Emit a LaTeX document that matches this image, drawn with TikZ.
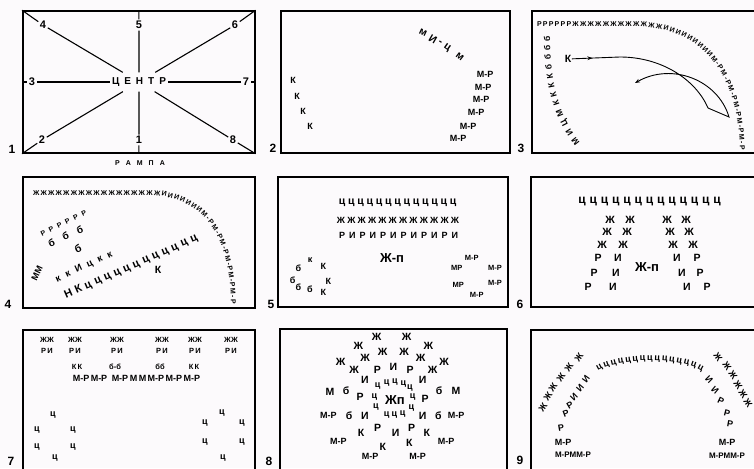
\documentclass[tikz,border=0pt]{standalone}
\usepackage{fontspec}
\setmainfont{Liberation Sans}
\usetikzlibrary{arrows.meta,positioning,decorations.text,decorations.markings}
\definecolor{paper}{RGB}{252,250,252}

\begin{document}
\begin{tikzpicture}[x=1pt, y=-1pt,
    stage/.style={draw, line width=1.5pt, inner sep=0pt},
    num/.style={font=\bfseries\fontsize{12}{12}\selectfont, inner sep=1.5pt},
    wee/.style={font=\bfseries\fontsize{7.5}{7.5}\selectfont, inner sep=0.5pt},
    role/.style={font=\bfseries\fontsize{9}{9}\selectfont, inner sep=0.5pt},
    cast/.style={font=\bfseries\fontsize{10.5}{10.5}\selectfont, inner sep=0.5pt},
    lead/.style={font=\bfseries\fontsize{13}{13}\selectfont, inner sep=1pt},
    track/.style 2 args={decorate, decoration={text along path, text align={fit to path},
        text={|\bfseries\fontsize{#1}{#1}\selectfont|#2}}},
    move/.style={line width=0.9pt}
]
\useasboundingbox (0,0) rectangle (754,468);
\clip (0,0) rectangle (754,468);
\fill[paper] (0,0) rectangle (754,468);

% stages
\node[stage, minimum width=232pt, minimum height=142pt] (f1) at (138.8,82) {};
\node[stage, minimum width=229pt, minimum height=142pt] (f2) at (395.5,82) {};
\node[stage, minimum width=230pt, minimum height=142pt] (f3) at (647,82) {};
\node[stage, minimum width=232pt, minimum height=131pt] (f4) at (138.8,242.5) {};
\node[stage, minimum width=230pt, minimum height=130pt] (f5) at (393,242) {};
\node[stage, minimum width=230pt, minimum height=130pt] (f6) at (646,242) {};
\node[stage, minimum width=232pt, minimum height=150pt] (f7) at (138.8,405) {};
\node[stage, minimum width=227pt, minimum height=151pt] (f8) at (393.5,404.5) {};
\node[stage, minimum width=230pt, minimum height=150pt] (f9) at (646,405) {};

\foreach \n/\x/\y in {1/12/149, 2/273/148, 3/521/148, 4/8/304, 5/271/304, 6/520/304, 7/11/461, 8/269/461, 9/520/460}
  \node[num] (no\n) at (\x,\y) {\n};

% 1: centre and positions
\node[font=\bfseries\fontsize{10}{10}\selectfont, inner xsep=2pt, inner ysep=5pt] (centre) at (139,82)
  {Ц\hspace{5pt}Е\hspace{5pt}Н\hspace{5pt}Т\hspace{5pt}Р};
\foreach \n/\x/\y in {1/139/140, 2/42/140, 3/32/82, 4/43/25, 5/139/25, 6/235/25, 7/246/82, 8/233/140}
  \node[num, font=\bfseries\fontsize{11}{11}\selectfont] (s\n) at (\x,\y) {\n};
\foreach \n/\a in {1/south, 2/south west, 3/west, 4/north west, 5/north, 6/north east, 7/east, 8/south east}
  \draw[line width=1.1pt] (f1.\a) -- (s\n) -- (centre);
\node[font=\bfseries\fontsize{7}{7}\selectfont] (ramp) at (140,163)
  {Р\hspace{6pt}А\hspace{6pt}М\hspace{6pt}П\hspace{6pt}А};

% 2
\foreach \x/\y [count=\n] in {293/80, 297/96, 303/111, 310/126}
  \node[role] (k2\n) at (\x,\y) {К};
\foreach \x/\y [count=\n] in {485/74, 483/87, 481/99, 476/112, 468/126, 458/138}
  \node[role] (m2\n) at (\x,\y) {М-Р};
\foreach \x/\y/\a/\t [count=\n] in {423/33/-25/м, 433/39/-30/И, 440/43/-32/-, 447/48/-35/ц, 460/57/-38/м}
  \node[cast, rotate=\a] (w2\n) at (\x,\y) {\t};

% 3
\node[cast] (k3) at (568,59) {К};
\path[track={7}{РРРРРРЖЖЖЖЖЖЖЖЖЖЖЖИИИИИИИИИМ-РМ-РМ-РМ-РМ-РМ-Р}]
  (537,27) -- (640,27) .. controls (700,28) and (738,72) .. (740,150);
\path[track={8.5}{МИЦМККККбббб}]
  (580,142) .. controls (560,118) and (550,85) .. (550,36);
\coordinate (bend3) at (708,108);
\coordinate (tip3) at (729,117);
\coordinate (end3) at (635,83);
\draw[move, -{Stealth[length=5pt]},
      postaction={decorate, decoration={markings, mark=at position 0.07 with {\arrow{Stealth[length=5pt]}}}}]
  (k3) -- (620,57) .. controls (662,57) and (696,80) .. (bend3) -- (tip3)
  .. controls (718,80) and (672,62) .. (end3);

% 4
\path[track={7}{ЖЖЖЖЖЖЖЖЖЖЖЖЖЖЖЖЖИИИИИИИМ-РМ-РМ-РМ-РМ-РМ-Р}]
  (33,195) -- (150,195) .. controls (203,197) and (230,235) .. (231,304);
\path[track={7}{РРРРРР}] (42,236) -- (87,214);
\path[track={10}{ббб}] (50,247) -- (84,232);
\node[cast, rotate=25] (b4) at (78,249) {б};
\node[role, rotate=65] (m4) at (37,273) {ММ};
\path[track={9.5}{ккИцкк}] (57,282) -- (113,256);
\path[track={11}{НКцццццццццццц}] (66,298) -- (198,240);
\node[cast] (k4) at (158,270) {К};

% 5
\foreach \i in {0,...,12}
  \node[cast] (c5\i) at (342+9.25*\i,203) {ц};
\foreach \i in {0,...,11}
  \node[role] (z5\i) at (341+10.36*\i,220) {Ж};
\foreach \i in {0,...,5} {
  \node[role] (r5\i) at (342+20.5*\i,235) {Р};
  \node[role] (i5\i) at (352.3+20.5*\i,235) {И};
}
\node[lead] (lead5) at (392,258) {Ж-п};
\foreach \x/\y/\t [count=\n] in {298.3/268.3/б, 310/260/к, 323.3/266.7/К, 292.7/280/б, 328.3/281/К,
    298.3/287.3/б, 310/289.3/б, 323.3/292.7/К}
  \node[role] (g5\n) at (\x,\y) {\t};
\foreach \x/\y/\t [count=\n] in {456.7/268.3/МР, 471.7/258.3/М-Р, 495/268.3/М-Р, 458.3/285/МР,
    476.7/295/М-Р, 495/283.3/М-Р}
  \node[wee] (q5\n) at (\x,\y) {\t};

% 6
\foreach \i in {0,...,12}
  \node[cast, font=\bfseries\fontsize{12}{12}\selectfont] (c6\i) at (582+11.25*\i,202) {ц};
\foreach \x/\y [count=\n] in {610/220, 630/220, 607/232, 627/232, 602/245, 623/245,
    667/220, 686/220, 670/232, 689/232, 673/245, 693/245}
  \node[cast] (z6\n) at (\x,\y) {Ж};
\foreach \x/\y/\t [count=\n] in {598/258/Р, 618/258/И, 594/273/Р, 616/273/И, 588/287/Р, 613/287/И,
    677/258/И, 697/258/Р, 682/273/И, 700/273/Р, 687/287/И, 707/287/Р}
  \node[cast] (p6\n) at (\x,\y) {\t};
\node[lead] (lead6) at (647,267) {Ж-п};

% 7
\foreach \x [count=\n] in {47, 75, 117, 162, 195, 231} {
  \node[wee] (z7\n) at (\x,340) {ЖЖ};
  \node[wee] (p7\n) at (\x,351) {Р\,И};
}
\foreach \x/\t [count=\n] in {77/К\,К, 115/б-б, 160/бб, 194/К\,К}
  \node[wee] (g7\n) at (\x,367) {\t};
\node[wee, font=\bfseries\fontsize{9}{9}\selectfont] (mr7) at (136.5,378)
  {М-Р\,М-Р\enspace М-Р\,М\,М\,М-Р\,М-Р\,М-Р};
\foreach \x/\y [count=\n] in {53/415, 37/430, 73/430, 37/447, 73/447, 55/458,
    222/413, 205/423, 242/423, 205/442, 242/442, 223/458}
  \node[role] (c7\n) at (\x,\y) {ц};

% 8
\foreach \x/\y [count=\n] in {376.7/336.7, 406.7/336.7, 358.3/345.7, 382.7/351.7, 404/351.7, 428.3/345.7,
    340.7/361.7, 365/358.3, 420.7/358.3, 444/361.7, 354/370, 432.7/370}
  \node[cast] (z8\n) at (\x,\y) {Ж};
\foreach \x/\y [count=\n] in {377.7/385.7, 386.7/383.3, 395/382.3, 403.3/384.3, 410/388.3,
    374.3/396.7, 376/406.7, 412.7/396.7, 411.3/408.3, 386.7/415, 394.3/415, 402.7/414.3}
  \node[role] (c8\n) at (\x,\y) {ц};
\node[lead] (lead8) at (395,400) {Жп};
\foreach \x/\y/\t [count=\n] in {377.3/370/Р, 393.3/366.7/И, 410/370/Р, 365/380/И, 422.7/380/И,
    330/391.7/М, 346/391/б, 360/396.7/Р, 425/399/Р, 439/391/б, 456/391/М,
    349/415.7/б, 365/415.7/И, 422.7/415.7/И, 438.3/415.7/б,
    377.7/428.3/Р, 395.7/433.3/И, 411.7/428.3/Р, 361/433.3/К, 426.7/433.3/К,
    382.7/446.7/К, 409.3/443.3/К}
  \node[cast] (p8\n) at (\x,\y) {\t};
\foreach \x/\y [count=\n] in {328.3/415, 456/415, 338.3/441.7, 446/441.7, 370/456.7, 417.7/456.7}
  \node[role] (q8\n) at (\x,\y) {М-Р};

% 9
\foreach \x/\y [count=\n] in {543/407, 548/396, 553/387, 561/377, 569/367, 579/357}
  \node[role, rotate=55] (zl9\n) at (\x,\y) {Ж};
\foreach \x/\y [count=\n] in {718/357, 727/366, 733/375, 738/385, 743/394, 748/403}
  \node[role, rotate=-55] (zr9\n) at (\x,\y) {Ж};
\foreach \x/\y/\a/\t [count=\n] in {586/379/55/И, 580/388/50/И, 574/397/45/И, 570/405/30/Р, 566/414/20/Р, 561/428/10/Р,
    709/380/-45/И, 715/390/-40/И, 721/401/-25/Р, 727/413/-15/Р, 730/424/-10/Р}
  \node[role, rotate=\a] (p9\n) at (\x,\y) {\t};
\path[track={9}{ццццццццццццццц}] (598,371) .. controls (619,357) and (681,357) .. (702,371);
\node[role] (ml9) at (563,442) {М-Р};
\node[role, font=\bfseries\fontsize{8}{8}\selectfont] (mm9) at (573,455) {М-РММ-Р};
\node[role] (mr9) at (727,442) {М-Р};
\node[role, font=\bfseries\fontsize{8}{8}\selectfont] (nn9) at (727,456) {М-РММ-Р};
\end{tikzpicture}
\end{document}
